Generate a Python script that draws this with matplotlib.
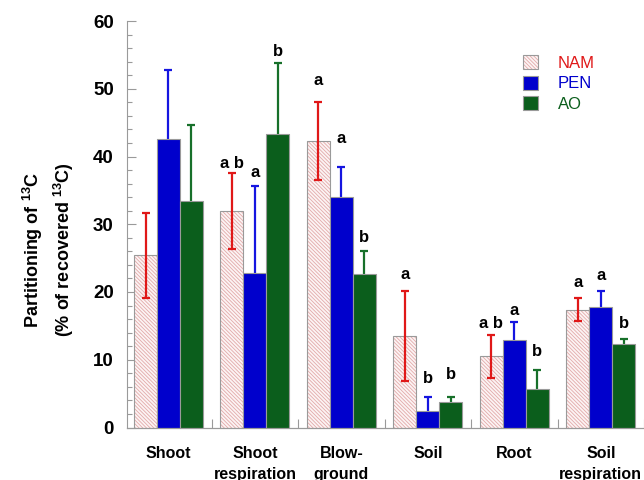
import numpy as np
import matplotlib
matplotlib.use("Agg")
import matplotlib.pyplot as plt
from matplotlib.patches import Patch
from matplotlib.ticker import MultipleLocator

plt.rcParams['font.family'] = ['Liberation Sans', 'DejaVu Sans']
plt.rcParams['mathtext.fontset'] = 'custom'
plt.rcParams['mathtext.rm'] = 'Liberation Sans:bold'
plt.rcParams['mathtext.default'] = 'rm'
plt.rcParams['hatch.linewidth'] = 0.6

# Partitioning of recovered 13C (%), mean and error per compartment
groups = ['Shoot', 'Shoot\nrespiration', 'Blow-\nground', 'Soil', 'Root', 'Soil\nrespiration']
treatments = ['NAM', 'PEN', 'AO']

nam = [25.4, 31.9, 42.3, 13.5, 10.5, 17.4]
nam_err = [6.3, 5.6, 5.7, 6.7, 3.2, 1.7]
pen = [42.6, 22.8, 34.0, 2.4, 12.9, 17.8]
pen_err = [10.1, 12.8, 4.5, 2.1, 2.6, 2.4]
ao = [33.5, 43.3, 22.7, 3.7, 5.7, 12.3]
ao_err = [11.2, 10.5, 3.3, 0.8, 2.8, 0.7]

# significance letters and their heights
nam_letters = ['', 'a b', 'a', 'a', 'a b', 'a']
pen_letters = ['', 'a', 'a', 'b', 'a', 'a']
ao_letters = ['', 'b', 'b', 'b', 'b', 'b']
nam_letter_y = [0, 38.3, 50.6, 21.9, 14.7, 20.7]
pen_letter_y = [0, 37.0, 42.0, 6.6, 16.6, 21.8]
ao_letter_y = [0, 54.8, 27.4, 7.2, 10.5, 14.7]

fig = plt.figure(figsize=(6.44, 4.8), dpi=100)
ax = fig.add_axes([127 / 644, 1 - 427.5 / 480, 517 / 644, 406.5 / 480])

x = np.arange(len(groups))
w = 0.266
edge = '#9a9a9a'
hatch = '\\' * 9

nam_face = '#fcf4f4'
hatch_col = '#e2a9a9'
nam_col = '#e01818'
pen_col = '#0000cc'
pen_err_col = '#1515e0'
ao_col = '#0b5e1c'
ao_err_col = '#17702a'

# hatched NAM bars (hatch in pink), then a grey outline on top
ax.bar(x - w, nam, w, color=nam_face, edgecolor=hatch_col, hatch=hatch, linewidth=0, zorder=2)
ax.bar(x - w, nam, w, fill=False, edgecolor=edge, linewidth=0.8, zorder=2)
ax.bar(x, pen, w, color=pen_col, edgecolor=edge, linewidth=0.8, zorder=2)
ax.bar(x + w, ao, w, color=ao_col, edgecolor=edge, linewidth=0.8, zorder=2)

# NAM bars are light so both halves show; the solid bars hide the lower half
ax.errorbar(x - w, nam, yerr=nam_err, fmt='none', ecolor=nam_col, elinewidth=1.6,
            capsize=3, capthick=1.6, zorder=3)
ax.errorbar(x, pen, yerr=pen_err, fmt='none', ecolor=pen_err_col,
            elinewidth=1.6, capsize=3, capthick=1.6, zorder=1.5)
ax.errorbar(x + w, ao, yerr=ao_err, fmt='none', ecolor=ao_err_col,
            elinewidth=1.6, capsize=3, capthick=1.6, zorder=1.5)

for offs, labs, ys in [(-w, nam_letters, nam_letter_y), (0, pen_letters, pen_letter_y),
                       (w, ao_letters, ao_letter_y)]:
    for xi, lab, yi in zip(x, labs, ys):
        if lab:
            ax.text(xi + offs, yi, lab, ha='center', va='baseline', fontsize=12,
                    fontweight='bold', color='black', zorder=4)

ax.set_xlim(-0.48, 5.5)
ax.set_ylim(0, 60)

ax.spines['top'].set_visible(False)
ax.spines['right'].set_visible(False)
for s in ['left', 'bottom']:
    ax.spines[s].set_color(edge)
    ax.spines[s].set_linewidth(0.8)

ax.yaxis.set_major_locator(MultipleLocator(10))
ax.yaxis.set_minor_locator(MultipleLocator(2))
ax.tick_params(axis='y', which='major', direction='in', length=6.2, width=0.8, color=edge,
               labelsize=13.5, pad=9.5)
ax.tick_params(axis='y', which='minor', direction='in', length=3.4, width=0.8, color=edge)
for lab in ax.get_yticklabels():
    lab.set_fontweight('bold')

ax.set_xticks(x)
ax.set_xticklabels(groups, fontsize=11.5, fontweight='bold', linespacing=1.55)
ax.set_xticks(np.concatenate([x - 0.3, x - 0.1, x + 0.1, x + 0.3]), minor=True)
ax.tick_params(axis='x', which='major', length=0, pad=13)
ax.tick_params(axis='x', which='minor', direction='in', length=3.4, width=0.8, color=edge)

# group boundaries on the x axis
sec = ax.secondary_xaxis('bottom')
sec.set_xticks(np.arange(-0.5, len(groups), 1.0))
sec.tick_params(direction='in', length=6.2, width=0.8, color=edge, labelbottom=False)
sec.spines['bottom'].set_color(edge)
sec.spines['bottom'].set_linewidth(0.8)

ax.set_ylabel('Partitioning of $^{13}$C\n(% of recovered $^{13}$C)', fontsize=13,
              fontweight='bold', linespacing=1.35, va='center')
ax.yaxis.set_label_coords(-0.152, 0.437)

handles = [
    (Patch(facecolor=nam_face, edgecolor=hatch_col, hatch=hatch, linewidth=0),
     Patch(fill=False, edgecolor=edge, linewidth=0.8)),
    Patch(facecolor=pen_col, edgecolor=edge, linewidth=0.8),
    Patch(facecolor=ao_col, edgecolor=edge, linewidth=0.8),
]
ax.legend(handles, treatments, loc='upper left', bbox_to_anchor=(0.766, 0.916),
          frameon=False, fontsize=12, handlelength=0.9, handleheight=0.9,
          handletextpad=1.2, labelspacing=0.3, borderpad=0, borderaxespad=0,
          labelcolor=[nam_col, pen_col, ao_col])

fig.savefig('out.png', dpi=100)
